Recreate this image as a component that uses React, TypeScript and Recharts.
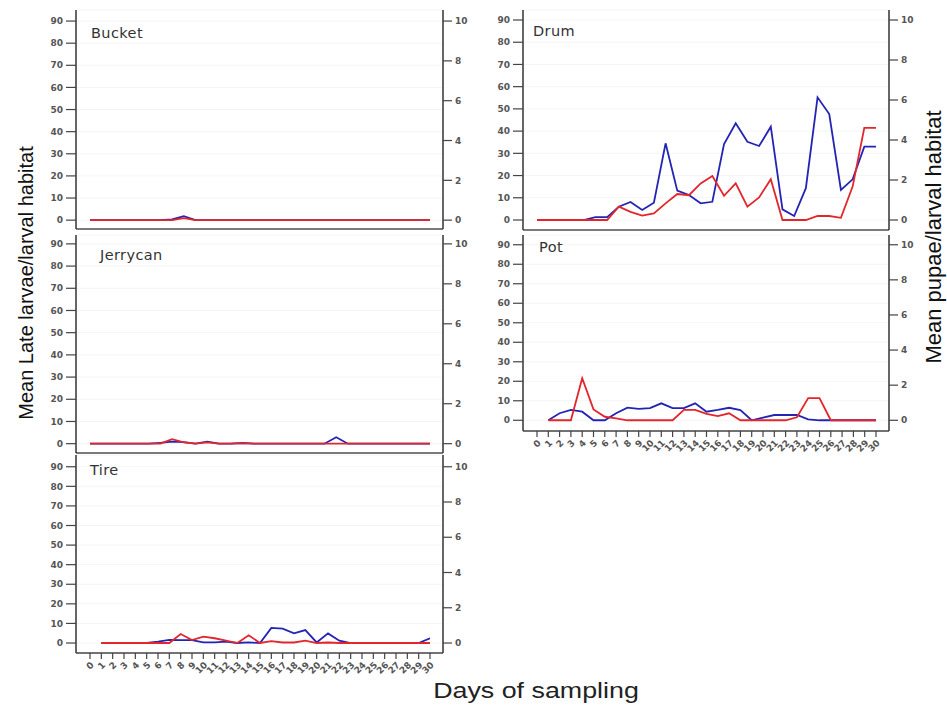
import React from "react";
import { LineChart, Line, XAxis, YAxis, CartesianGrid } from "recharts";

// Days of sampling (each habitat series has one value per day)
const days = [1, 2, 3, 4, 5, 6, 7, 8, 9, 10, 11, 12, 13, 14, 15, 16, 17, 18, 19, 20, 21, 22, 23, 24, 25, 26, 27, 28, 29, 30];
const dayTicks = [0, 1, 2, 3, 4, 5, 6, 7, 8, 9, 10, 11, 12, 13, 14, 15, 16, 17, 18, 19, 20, 21, 22, 23, 24, 25, 26, 27, 28, 29, 30];
const larvaeTicks = [0, 10, 20, 30, 40, 50, 60, 70, 80, 90];
const pupaeTicks = [0, 2, 4, 6, 8, 10];

// Mean late larvae per larval habitat (left axis)
const bucketLarvae = [0, 0, 0, 0, 0, 0, 0, 0.3, 1.8, 0, 0, 0, 0, 0, 0, 0, 0, 0, 0, 0, 0, 0, 0, 0, 0, 0, 0, 0, 0, 0];
const jerrycanLarvae = [0, 0, 0, 0, 0, 0, 0.4, 0.9, 0.7, 0, 0.9, 0, 0, 0.3, 0, 0, 0, 0, 0, 0, 0, 2.9, 0, 0, 0, 0, 0, 0, 0, 0];
const tireLarvae = [0, 0, 0, 0, 0, 0.7, 1.6, 1.5, 1.5, 0.3, 0.3, 0.7, 0, 0.3, 0, 7.7, 7.3, 4.9, 6.6, 0.3, 4.9, 1.2, 0, 0, 0, 0, 0, 0, 0, 2.4];
const drumLarvae = [0, 0, 0, 0, 0, 1.3, 1.3, 6, 8.1, 4.5, 7.8, 34.5, 13.2, 11.2, 7.5, 8.2, 34.2, 43.5, 35.2, 33.3, 42, 4.8, 1.8, 14.3, 55.2, 47.7, 13.5, 18.3, 33, 33];
const potLarvae = [0, 3.6, 5.3, 4.4, 0, 0, 3.6, 6.5, 5.8, 6.2, 8.7, 6.2, 6.2, 8.7, 4.4, 5.3, 6.4, 5.2, 0, 1.4, 2.7, 2.7, 2.7, 0.5, 0, 0, 0, 0, 0, 0];

// Mean pupae per larval habitat (right axis)
const bucketPupae = [0, 0, 0, 0, 0, 0, 0, 0, 0.1, 0, 0, 0, 0, 0, 0, 0, 0, 0, 0, 0, 0, 0, 0, 0, 0, 0, 0, 0, 0, 0];
const jerrycanPupae = [0, 0, 0, 0, 0, 0, 0, 0.23, 0.06, 0, 0.06, 0, 0, 0.03, 0, 0, 0, 0, 0, 0, 0, 0, 0, 0, 0, 0, 0, 0, 0, 0];
const tirePupae = [0, 0, 0, 0, 0, 0, 0, 0.51, 0.17, 0.36, 0.27, 0.13, 0, 0.44, 0, 0.11, 0.03, 0.03, 0.13, 0, 0.03, 0, 0, 0, 0, 0, 0, 0, 0, 0];
const drumPupae = [0, 0, 0, 0, 0, 0, 0, 0.67, 0.41, 0.22, 0.33, 0.83, 1.3, 1.24, 1.83, 2.2, 1.21, 1.83, 0.67, 1.13, 2.04, 0, 0, 0, 0.2, 0.2, 0.11, 1.67, 4.61, 4.61];
const potPupae = [0, 0, 0, 2.4, 0.62, 0.2, 0.11, 0, 0, 0, 0, 0, 0.59, 0.59, 0.36, 0.24, 0.4, 0, 0, 0, 0, 0, 0.17, 1.26, 1.26, 0, 0, 0, 0, 0];

const rows = (larvae: number[], pupae: number[]) =>
  days.map((d, i) => ({ day: d, larvae: larvae[i], pupae: pupae[i] }));

const BLUE = "#2424b4";
const RED = "#e2262c";
const tickStyle = { fontFamily: "DejaVu Sans", fontSize: 9, fontWeight: 700, fill: "#555" };

type PanelProps = {
  data: { day: number; larvae: number; pupae: number }[];
  left: number;
  top: number;
  width: number;
  height: number;
  domain: [number, number];
  showX: boolean;
};

function Panel({ data, left, top, width, height, domain, showX }: PanelProps) {
  const rDomain: [number, number] = [domain[0] / 9, domain[1] / 9];
  return (
    <div style={{ position: "absolute", left, top, width, height }}>
      <LineChart width={width} height={height} data={data} margin={{ top: 5, right: 0, bottom: 0, left: 0 }}>
        <CartesianGrid yAxisId="left" vertical={false} stroke="#f5f5f5" strokeWidth={1} />
        <XAxis
          dataKey="day"
          type="number"
          domain={showX ? [0, 30] : [1, 30]}
          ticks={showX ? dayTicks : []}
          allowDataOverflow
          interval={0}
          padding={{ left: 14, right: 13 }}
          height={showX ? 35 : 5}
          axisLine={{ stroke: showX ? "#444" : "#7a7a7a", strokeWidth: showX ? 1.5 : 2 }}
          tickLine={showX ? { stroke: "#444", strokeWidth: 1.2 } : false}
          tickSize={6}
          tick={showX ? { ...tickStyle, angle: -45, textAnchor: "end" } : false}
        />
        <YAxis
          yAxisId="left"
          orientation="left"
          width={40}
          domain={domain}
          allowDataOverflow
          ticks={larvaeTicks}
          interval={0}
          axisLine={{ stroke: "#333", strokeWidth: 1.5 }}
          tickLine={{ stroke: "#444", strokeWidth: 1.2 }}
          tickSize={10}
          tickMargin={3}
          tick={tickStyle}
        />
        <YAxis
          yAxisId="right"
          orientation="right"
          width={40}
          domain={rDomain}
          allowDataOverflow
          ticks={pupaeTicks}
          interval={0}
          axisLine={{ stroke: "#333", strokeWidth: 1.5 }}
          tickLine={{ stroke: "#444", strokeWidth: 1.2 }}
          tickSize={9}
          tickMargin={3}
          tick={tickStyle}
        />
        <Line yAxisId="left" dataKey="larvae" type="linear" stroke={BLUE} strokeWidth={1.8} dot={false} isAnimationActive={false} />
        <Line yAxisId="right" dataKey="pupae" type="linear" stroke={RED} strokeWidth={1.8} dot={false} isAnimationActive={false} />
      </LineChart>
    </div>
  );
}

const titleStyle = { fontFamily: "DejaVu Sans", fontSize: 14.5, fill: "#333", letterSpacing: 0.4 };

export default function App() {
  return (
    <div style={{ position: "absolute", left: 0, top: 0, width: 947, height: 709, background: "#fff", overflow: "hidden" }}>
      <Panel data={rows(bucketLarvae, bucketPupae)} left={36} top={5} width={447} height={229} domain={[-4, 95]} showX={false} />
      <Panel data={rows(jerrycanLarvae, jerrycanPupae)} left={36} top={230} width={447} height={228} domain={[-4.2, 94]} showX={false} />
      <Panel data={rows(tireLarvae, tirePupae)} left={36} top={450} width={447} height={238} domain={[-5.1, 96]} showX={true} />
      <Panel data={rows(drumLarvae, drumPupae)} left={483} top={5} width={446} height={230} domain={[-4.5, 94.5]} showX={false} />
      <Panel data={rows(potLarvae, potPupae)} left={483} top={230} width={446} height={236} domain={[-5.5, 95]} showX={true} />
      <svg width={947} height={709} style={{ position: "absolute", left: 0, top: 0, pointerEvents: "none" }}>
        <text x={91} y={37.5} style={titleStyle}>Bucket</text>
        <text x={100} y={259.5} style={titleStyle}>Jerrycan</text>
        <text x={90} y={475} style={titleStyle}>Tire</text>
        <text x={533} y={35.7} style={titleStyle}>Drum</text>
        <text x={539} y={251.7} style={titleStyle}>Pot</text>
        <text
          transform="translate(33,283) rotate(-90)"
          textAnchor="middle"
          style={{ fontFamily: "Liberation Sans", fontSize: 20, fill: "#111" }}
        >
          Mean Late larvae/larval habitat
        </text>
        <text
          transform="translate(941,237) rotate(-90)"
          textAnchor="middle"
          style={{ fontFamily: "Liberation Sans", fontSize: 22, fill: "#111" }}
        >
          Mean pupae/larval habitat
        </text>
        <text
          transform="translate(536,698) scale(1.22,1)"
          textAnchor="middle"
          style={{ fontFamily: "Liberation Sans", fontSize: 22, fill: "#222" }}
        >
          Days of sampling
        </text>
      </svg>
    </div>
  );
}
